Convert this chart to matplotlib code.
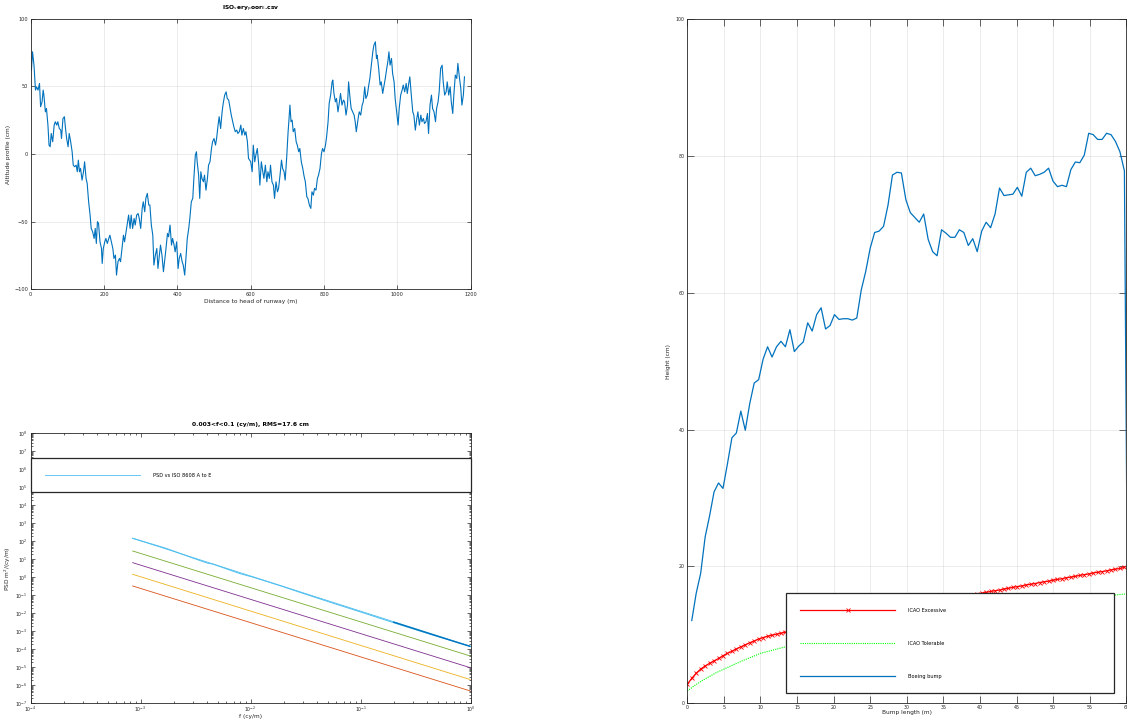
import numpy as np
import matplotlib
matplotlib.use("Agg")
import matplotlib.pyplot as plt
from matplotlib.ticker import LogLocator, NullFormatter, MultipleLocator

# ---- runway altitude profile ----
profile_x = [
    0, 2, 5, 9, 13, 16, 20, 24, 27, 31, 34, 36, 40, 43, 47, 50, 53, 56, 60, 64,
    67, 71, 74, 78, 82, 84, 88, 92, 94, 98, 102, 105, 109, 113, 116, 120, 124, 127, 130, 133,
    136, 140, 144, 147, 151, 154, 158, 162, 165, 169, 173, 176, 179, 182, 185, 189, 193, 195, 198, 202,
    205, 209, 213, 216, 220, 224, 227, 231, 234, 238, 242, 245, 249, 253, 256, 260, 264, 267, 271, 274,
    278, 282, 285, 289,
    293, 296, 300, 304, 307, 311, 314, 318, 322, 325, 329, 333, 336, 340, 344, 347, 351, 354, 358, 362,
    365, 369, 373, 376, 380, 384, 387, 391, 394, 398, 402, 405, 409, 413, 416, 420, 424, 427, 431, 434,
    438, 442, 445, 449, 452, 454, 458, 461, 464, 467, 471, 474, 478, 482, 485, 489, 493, 496, 500, 504,
    507, 511, 514, 518, 522, 525, 529, 533, 536, 540, 544, 547, 551, 554, 558, 562, 565, 569, 573, 576,
    580, 584, 587, 591, 594,
    600, 604, 607, 611, 614, 618, 622, 625, 629, 633, 636, 640, 644, 647, 651, 654, 658, 662, 665, 669,
    673, 676, 680, 684, 687, 691, 694, 698, 702, 704, 707, 710, 713, 716, 720, 724, 727, 731, 734, 738,
    742, 745, 749, 753, 756, 760, 764, 767, 771, 774, 778, 782, 785, 789, 793, 796, 800, 804, 807, 811,
    814, 818, 822, 824, 827, 831, 834, 838, 842, 845, 849, 853, 856, 860, 864, 867, 871, 874, 878, 882,
    885, 888,
    893, 896, 900, 904, 907, 911, 914, 918, 922, 925, 929, 933, 936, 940, 943, 945, 949, 953, 956, 960,
    964, 967, 971, 974, 977, 980, 984, 987, 991, 994, 998, 1002, 1005, 1009, 1013, 1016, 1020, 1024, 1027, 1031,
    1034, 1038, 1042, 1045, 1049, 1053, 1056, 1060, 1064, 1067, 1071, 1074, 1078, 1082, 1085, 1089, 1093, 1096, 1100, 1104,
    1107, 1111, 1114, 1118, 1122, 1125, 1129, 1133, 1136, 1140, 1144, 1147, 1151, 1154, 1158, 1162, 1165, 1169, 1173, 1176,
    1180, 1183,
]
profile_h = [
    64.5, 62, 75.6, 65.7, 47.3, 49.7, 47.3, 52.2, 35, 38.6, 47.3, 43.6, 31.2, 33.7, 21.4, 6.6, 5.4, 15.2, 9.1, 21.4,
    23.9, 21.4, 23.9, 18.9, 17.7, 11.5, 26.3, 27.6, 21.4, 11.5, 5.4, 15.2, 9.1, 1.7, -8.2, -9.4, -8.2, -13.1, -4.5, -13.1,
    -10.6, -19.3, -13.1, -5.7, -18, -21.7, -35.3, -45.1, -55, -57.5, -62.4, -55, -66.1, -50, -51.3, -64.9, -69.8, -80.9, -69.8, -64.9,
    -62.4, -66.1, -62.4, -60, -64.9, -69.8, -77.2, -74.7, -89.5, -79.6, -77.2, -79.6, -69.8, -60, -64.9, -57.5, -50, -45.1, -55, -45.1,
    -55, -47.6, -52.5, -45.1,
    -44, -47.6, -55, -40.2, -35.3, -42.7, -32.8, -29.1, -37.7, -37.7, -52.5, -60, -82.1, -74.7, -69.8, -84.6, -74.7, -67.3, -74.7, -87,
    -79.6, -69.8, -58.7, -61.2, -52.5, -67.3, -62.4, -67.3, -72.3, -64.9, -84.6, -77.2, -73.5, -79.6, -82.1, -89.5, -74.7, -62.4, -55, -47.6,
    -35.3, -32.8, -18, -0.8, 1.7, -5.7, -15.6, -32.8, -13.1, -18, -20.5, -15.6, -26.7, -18, -8.2, -5.7, 4.1, 9.1, 11.5, 6.6,
    11.5, 21.4, 27.6, 18.9, 31.2, 37.4, 43.6, 46, 41.1, 39.9, 33.7, 28.8, 23.9, 20.2, 16.5, 17.7, 15.2, 16.5, 21.4, 14,
    18.9, 14, 16.5, 9.1, -3.2,
    -5.7, -13.1, 6.6, -5.7, -0.8, 4.1, -8.2, -23, -5.7, -13.1, -18, -8.2, -20.5, -13.1, -18, -8.2, -20.5, -23, -32.8, -20.5,
    -27.9, -25.4, -15.6, -4.5, -10.6, -13.1, -19.3, -3.2, 16.5, 23.9, 36.2, 23.9, 25.1, 16.5, 18.9, 9.1, 6.6, 1.7, 4.1, -5.7,
    -10.6, -15.6, -20.5, -31.6, -32.8, -37.7, -40.2, -27.9, -30.4, -25.4, -26.7, -18, -15.6, -10.6, 0.4, 4.1, 1.7, 6.6, 12.8, 23.9,
    37.4, 43.6, 53.4, 54.7, 44.8, 38.6, 41.1, 31.2, 38.6, 44.8, 36.2, 39.9, 38.6, 28.8, 36.2, 53.4, 41.1, 33.7, 31.2, 28.8,
    23.9, 16.5,
    26.3, 31.2, 28.8, 36.2, 38.6, 49.7, 41.1, 43.6, 51, 55.9, 65.7, 75.6, 80.5, 83, 70.7, 73.1, 63.3, 51, 53.4, 44.8,
    51, 55.9, 63.3, 68.2, 75.6, 65.7, 70.7, 59.6, 53.4, 41.1, 31.2, 21.4, 33.7, 43.6, 47.3, 51, 46, 52.2, 44.8, 52.2,
    57.1, 43.6, 31.2, 28.8, 17.7, 26.3, 31.2, 21.4, 28.8, 23.9, 26.3, 22.6, 23.9, 30, 15.2, 36.2, 43.6, 33.7, 31.2, 23.9,
    33.7, 38.6, 46, 63.3, 65.7, 53.4, 43.6, 46, 53.4, 43.6, 49.7, 38.6, 30, 43.6, 58.4, 55.9, 67, 57.1, 48.5, 36.2,
    43.6, 57.1,
]

# ---- PSD ----
psd_f = [8.45e-4, 1.72e-3, 2.62e-3, 3.98e-3, 4.58e-3, 6.96e-3, 8.0e-3, 1.06e-2,
         1.98e-2, 2.81e-2, 5.64e-2, 0.1, 0.228, 0.458, 0.986]
psd_meas = [147, 40, 15.5, 6.3, 5.3, 2.15, 1.6, 1.0,
            0.3, 0.145, 0.036, 0.0118, 2.3e-3, 6.0e-4, 1.5e-4]
psd_tail_f = [0.2, 0.4, 0.7, 0.986]
psd_tail = [3.2e-3, 8.3e-4, 2.8e-4, 1.45e-4]
iso_f = [8.45e-4, 0.986]
iso_classes = {          # start, end values
    "A": [0.33, 4.9e-7],
    "B": [1.47, 2.1e-6],
    "C": [6.5, 9.6e-6],
    "D": [29, 4.3e-5],
    "E": [147, 1.5e-4],
}
iso_colors = {"A": "#D95319", "B": "#EDB120", "C": "#7E2F8E", "D": "#77AC30", "E": "#4DBEEE"}

# ---- bump curves ----
ft2 = 0.6096
excessive_h = [
    2.8, 3.65, 4.4, 5.0, 5.45, 5.85, 6.2, 6.55, 6.95, 7.3, 7.6, 7.95, 8.25, 8.55, 8.85, 9.1, 9.4, 9.6, 9.8, 9.95,
    10.1, 10.25, 10.4, 10.55, 10.7, 10.8, 10.95, 11.1, 11.2, 11.35, 11.5, 11.6, 11.75, 11.9, 12.0, 12.15, 12.3, 12.4, 12.55, 12.65,
    12.8, 12.95, 13.05, 13.2, 13.3, 13.45, 13.6, 13.7, 13.85, 13.95, 14.1, 14.2, 14.35, 14.45, 14.6, 14.7, 14.85, 14.95, 15.1, 15.2,
    15.35, 15.45, 15.6, 15.7, 15.85, 15.95, 16.1, 16.2, 16.35, 16.45, 16.55, 16.7, 16.8, 16.95, 17.05, 17.15, 17.3, 17.4, 17.5, 17.65,
    17.75, 17.85, 18.0, 18.1, 18.2, 18.35, 18.45, 18.55, 18.7, 18.8, 18.9, 19.05, 19.15, 19.25, 19.35, 19.5, 19.6, 19.7, 19.85,
]
tolerable_x = [0, 1, 2, 3, 4, 5, 7.5, 10, 12.5, 15, 20, 25, 30, 35, 40, 45, 50, 55, 60]
tolerable_h = [1.8, 2.6, 3.3, 3.9, 4.5, 5.0, 6.2, 7.3, 8.0, 8.7, 9.8, 10.8, 11.7, 12.5, 13.3, 14.0, 14.7, 15.4, 16.0]
boeing_h = [
    12.1, 16.1, 19.0, 24.3, 27.4, 30.9, 32.2, 31.4, 35.0, 38.8, 39.5, 42.7, 39.9, 43.8, 46.8, 47.3, 50.3, 52.1, 50.6, 52.1,
    52.9, 52.1, 54.6, 51.4, 52.2, 52.8, 55.6, 54.4, 56.8, 57.8, 54.7, 55.2, 56.8, 56.1, 56.2, 56.2, 56.0, 56.3, 60.4, 63.1,
    66.5, 68.8, 69.0, 69.7, 72.8, 77.2, 77.6, 77.5, 73.6, 71.7, 71.0, 70.3, 71.5, 67.8, 66.0, 65.4, 69.2, 68.7, 68.1, 68.1,
    69.2, 68.8, 66.9, 67.9, 66.0, 69.0, 70.3, 69.5, 71.5, 75.3, 74.2, 74.3, 74.4, 75.4, 74.1, 77.6, 78.2, 77.1, 77.3, 77.6,
    78.2, 76.3, 75.5, 75.7, 75.5, 78.0, 79.1, 79.0, 80.1, 83.3, 83.1, 82.4, 82.4, 83.3, 83.1, 82.1, 80.6, 77.8, -15,
]

W, H = 1127, 721
DARK = "#262626"
BLUE = "#0072BD"


def matlab_style(ax, labelsize=3.6):
    for s in ax.spines.values():
        s.set_color(DARK)
        s.set_linewidth(0.6)
    ax.tick_params(which="both", direction="in", top=True, right=True,
                   labelsize=labelsize, colors=DARK, width=0.5, pad=2)
    ax.tick_params(which="major", length=3)
    ax.tick_params(which="minor", length=1.6)


plt.rcParams["font.family"] = ["DejaVu Sans"]
fig = plt.figure(figsize=(W / 100, H / 100), dpi=100)

# top left: altitude profile
ax1 = fig.add_axes([30.7 / W, 1 - 289.3 / H, 440 / W, 270.5 / H])
ax1.plot(profile_x, profile_h, color=BLUE, lw=0.8)
ax1.set_xlim(0, 1200)
ax1.set_ylim(-100, 100)
ax1.set_xticks(np.arange(0, 1201, 200))
ax1.set_yticks([-100, -50, 0, 50, 100])
ax1.grid(True, color=DARK, alpha=0.12, lw=0.5)
matlab_style(ax1)
ax1.set_title(r"ISO$_\mathrm{v}$ery$_\mathrm{p}$oor$_\mathrm{E}$.csv", fontsize=4.3,
              fontweight="bold", pad=6.5, color="black")
ax1.set_xlabel("Distance to head of runway (m)", fontsize=4.2, labelpad=1.5, color=DARK)
ax1.set_ylabel("Altitude profile (cm)", fontsize=4.2, labelpad=2, color=DARK)

# bottom left: PSD
ax2 = fig.add_axes([30.7 / W, 1 - 703.3 / H, 440 / W, 270 / H])
ax2.set_xscale("log")
ax2.set_yscale("log")
for cls in ["E", "D", "C", "B", "A"]:
    lbl = "PSD vs ISO 8608 A to E" if cls == "E" else None
    ax2.plot(iso_f, iso_classes[cls], color=iso_colors[cls], lw=0.6, label=lbl)
ax2.plot(psd_f, psd_meas, color="#4DBEEE", lw=0.7)
ax2.plot(psd_tail_f, psd_tail, color=BLUE, lw=1.0)
ax2.set_xlim(1e-4, 1e0)
ax2.set_ylim(1e-7, 1e8)
ax2.xaxis.set_major_locator(LogLocator(base=10, numticks=10))
ax2.yaxis.set_major_locator(LogLocator(base=10, numticks=20))
ax2.xaxis.set_minor_locator(LogLocator(base=10, subs=np.arange(2, 10), numticks=50))
ax2.yaxis.set_minor_locator(LogLocator(base=10, subs=np.arange(2, 10), numticks=50))
ax2.xaxis.set_minor_formatter(NullFormatter())
ax2.yaxis.set_minor_formatter(NullFormatter())
matlab_style(ax2, labelsize=3.3)
ax2.tick_params(axis="x", pad=0.8)
ax2.tick_params(axis="y", pad=2.4)
ax2.set_title("0.003<f<0.1 (cy/m), RMS=17.6 cm", fontsize=4.3, fontweight="bold", pad=5)
ax2.set_xlabel("f (cy/m)", fontsize=4.2, labelpad=0, color=DARK)
ax2.set_ylabel(r"PSD m$^2$/(cy/m)", fontsize=4.2, labelpad=1.5, color=DARK)
leg2 = ax2.legend(loc="center left", bbox_to_anchor=(0, 0.7815, 1, 0.1255), mode="expand",
                  fontsize=3.6, fancybox=False, edgecolor=DARK, borderpad=2.9,
                  handlelength=19, handletextpad=2.6, borderaxespad=0)
leg2.get_frame().set_linewidth(0.9)
leg2.get_frame().set_alpha(1)

# right: bump heights
ax3 = fig.add_axes([687.3 / W, 1 - 703.3 / H, 439 / W, 684.3 / H])
excessive_x = ft2 * np.arange(len(excessive_h))
boeing_x = ft2 * np.arange(1, len(boeing_h) + 1)
ax3.plot(excessive_x, excessive_h, color="#FF0000", lw=0.9, marker="x", ms=2.8, mew=0.6,
         label="ICAO Excessive")
ax3.plot(tolerable_x, tolerable_h, color="#00FF00", lw=0.8, ls=(0, (1, 1)), label="ICAO Tolerable")
ax3.plot(boeing_x, boeing_h, color=BLUE, lw=0.9, label="Boeing bump")
ax3.set_xlim(0, 60)
ax3.set_ylim(0, 100)
ax3.xaxis.set_major_locator(MultipleLocator(5))
ax3.yaxis.set_major_locator(MultipleLocator(20))
ax3.grid(True, color=DARK, alpha=0.12, lw=0.5)
matlab_style(ax3, labelsize=3.4)
ax3.tick_params(which="major", length=5)
ax3.tick_params(axis="x", pad=1.2)
ax3.set_xlabel("Bump length (m)", fontsize=4.2, labelpad=0, color=DARK)
ax3.set_ylabel("Height (cm)", fontsize=4.2, labelpad=3, color=DARK)
leg3 = ax3.legend(loc="lower left", bbox_to_anchor=(0.224, 0.0146, 0.749, 0.1485), mode="expand",
                  fontsize=3.6, fancybox=False, edgecolor=DARK, borderpad=2.9, labelspacing=5.6,
                  handlelength=19, handletextpad=2.6, borderaxespad=0, numpoints=1)
leg3.get_frame().set_linewidth(0.9)
leg3.get_frame().set_alpha(1)

fig.savefig("out.png", dpi=100, facecolor="white")
